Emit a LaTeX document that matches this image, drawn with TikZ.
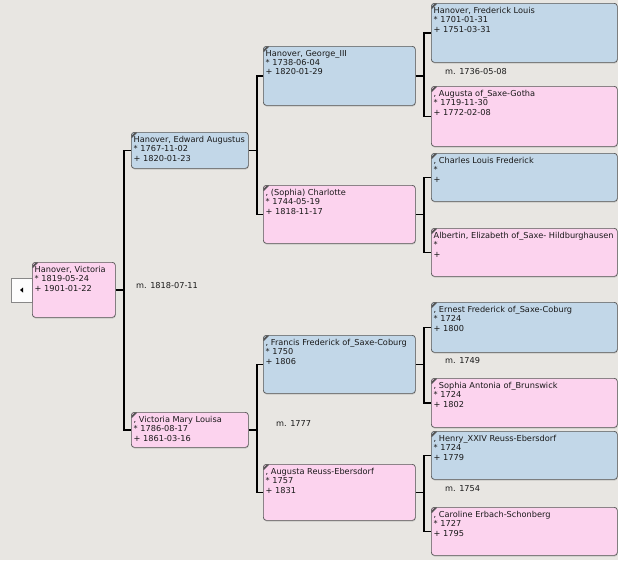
\documentclass[tikz,border=0pt]{standalone}
\usepackage{fontspec}
\setmainfont{DejaVu Sans}
\usetikzlibrary{shadows}

\definecolor{canvas}{RGB}{232,230,226}
\definecolor{maleblue}{RGB}{194,215,232}
\definecolor{femalepink}{RGB}{252,211,238}
\definecolor{boxline}{RGB}{85,85,85}
\definecolor{inktext}{RGB}{25,25,25}

\newcommand\boxfont{\fontsize{8.2}{9.3}\selectfont}

\tikzset{
  person/.style={draw=boxline, line width=0.7pt, rounded corners=3pt, anchor=north west,
    inner sep=0pt, drop shadow={shadow xshift=0.4pt, shadow yshift=-1.2pt, opacity=0.3},
    path picture={\draw[line width=1.8pt, line cap=round] ([yshift=-5pt]path picture bounding box.north west) -- ++(5pt,5pt);}},
  male/.style={person, fill=maleblue},
  female/.style={person, fill=femalepink},
  info/.style={anchor=north west, align=left, inner xsep=2.5pt, inner ysep=4pt, font=\boxfont, text=inktext},
  wed/.style={anchor=west, inner sep=0pt, font=\boxfont, text=inktext},
  link/.style={line width=1.7pt, black},
}

\begin{document}
\begin{tikzpicture}[x=1pt, y=-1pt]
    \useasboundingbox (0,0) rectangle (618,560);
    \clip (0,0) rectangle (618,560);
    \fill[canvas] (0,0) rectangle (618,560);

    % back button
    \node[draw=boxline!70, fill=white!92!canvas, line width=0.5pt, minimum width=21pt,
      minimum height=24pt, inner sep=0pt] (back) at (21.5,290) {};
    \fill ([xshift=-1.5pt]back.center) -- ++(3,-2.5) -- ++(0,5) -- cycle;

    % root
    \node[female, minimum width=83pt, minimum height=55pt,
      label={[info]north west:{Hanover, Victoria\\* 1819-05-24\\+ 1901-01-22}}] (vic) at (32,262) {};

    % parents
    \node[male, minimum width=117pt, minimum height=36pt,
      label={[info]north west:{Hanover, Edward Augustus\\* 1767-11-02\\+ 1820-01-23}}] (edw) at (131,132) {};
    \node[female, minimum width=117pt, minimum height=35pt,
      label={[info]north west:{, Victoria Mary Louisa\\* 1786-08-17\\+ 1861-03-16}}] (vml) at (131,412) {};

    % grandparents
    \node[male, minimum width=152pt, minimum height=59pt,
      label={[info]north west:{Hanover, George\_III\\* 1738-06-04\\+ 1820-01-29}}] (geo) at (263,46) {};
    \node[female, minimum width=152pt, minimum height=58pt,
      label={[info]north west:{, (Sophia) Charlotte\\* 1744-05-19\\+ 1818-11-17}}] (cha) at (263,185) {};
    \node[male, minimum width=152pt, minimum height=58pt,
      label={[info]north west:{, Francis Frederick of\_Saxe-Coburg\\* 1750\\+ 1806}}] (fra) at (263,335) {};
    \node[female, minimum width=152pt, minimum height=56pt,
      label={[info]north west:{, Augusta Reuss-Ebersdorf\\* 1757\\+ 1831}}] (aug) at (263,464) {};

    % great-grandparents
    \node[male, minimum width=186pt, minimum height=59pt,
      label={[info]north west:{Hanover, Frederick Louis\\* 1701-01-31\\+ 1751-03-31}}] (frl) at (431,3) {};
    \node[female, minimum width=186pt, minimum height=60pt,
      label={[info]north west:{, Augusta of\_Saxe-Gotha\\* 1719-11-30\\+ 1772-02-08}}] (ags) at (431,86) {};
    \node[male, minimum width=186pt, minimum height=48pt,
      label={[info]north west:{, Charles Louis Frederick\\*\\+}}] (clf) at (431,153) {};
    \node[female, minimum width=186pt, minimum height=48pt,
      label={[info]north west:{Albertin, Elizabeth of\_Saxe- Hildburghausen\\*\\+}}] (ale) at (431,228) {};
    \node[male, minimum width=186pt, minimum height=50pt,
      label={[info]north west:{, Ernest Frederick of\_Saxe-Coburg\\* 1724\\+ 1800}}] (ern) at (431,302) {};
    \node[female, minimum width=186pt, minimum height=49pt,
      label={[info]north west:{, Sophia Antonia of\_Brunswick\\* 1724\\+ 1802}}] (sop) at (431,378) {};
    \node[male, minimum width=186pt, minimum height=48pt,
      label={[info]north west:{, Henry\_XXIV Reuss-Ebersdorf\\* 1724\\+ 1779}}] (hen) at (431,431) {};
    \node[female, minimum width=186pt, minimum height=48pt,
      label={[info]north west:{, Caroline Erbach-Schonberg\\* 1727\\+ 1795}}] (car) at (431,507) {};

    % marriages
    \node[wed] (m1) at (136,286) {m. 1818-07-11};
    \node[wed] (m2) at (276,424) {m. 1777};
    \node[wed] (m3) at (445,72) {m. 1736-05-08};
    \node[wed] (m4) at (445,361) {m. 1749};
    \node[wed] (m5) at (445,489) {m. 1754};

    % draw connectors
    \foreach \child/\dad/\mum in {vic/edw/vml, edw/geo/cha, vml/fra/aug, geo/frl/ags,
        cha/clf/ale, fra/ern/sop, aug/hen/car}
      \draw[link] (\child.east) -- ++(8,0) |- (\dad.west)
                  (\child.east) ++(8,0) |- (\mum.west);
\end{tikzpicture}
\end{document}
